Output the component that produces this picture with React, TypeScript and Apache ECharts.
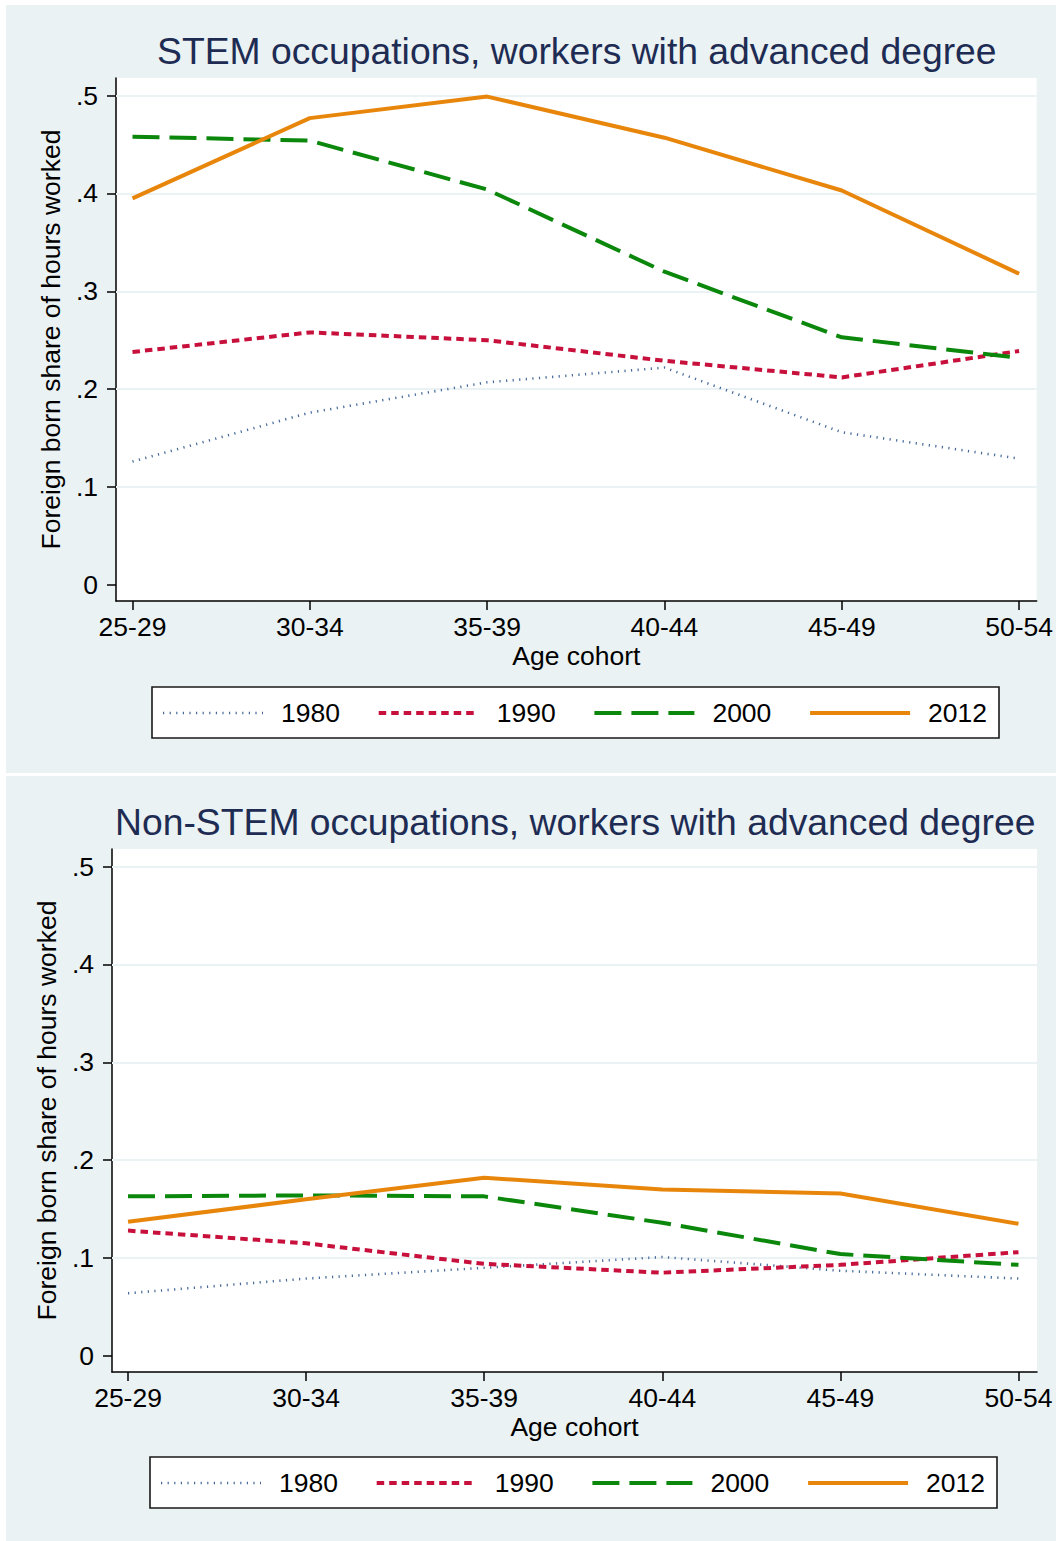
import React, { useEffect, useRef } from "react";
import * as echarts from "echarts";

const categories = ["25-29", "30-34", "35-39", "40-44", "45-49", "50-54"];
const seriesNames = ["1980", "1990", "2000", "2012"];
const yTicks = [0, 0.1, 0.2, 0.3, 0.4, 0.5];
const yTickLabels = ["0", ".1", ".2", ".3", ".4", ".5"];
const panelTitles = [
  "STEM occupations, workers with advanced degree",
  "Non-STEM occupations, workers with advanced degree",
];
const xAxisTitle = "Age cohort";
const yAxisTitle = "Foreign born share of hours worked";

const stem1980 = [0.126, 0.176, 0.207, 0.222, 0.156, 0.129];
const stem1990 = [0.238, 0.258, 0.25, 0.229, 0.212, 0.239];
const stem2000 = [0.458, 0.454, 0.404, 0.32, 0.253, 0.232];
const stem2012 = [0.395, 0.477, 0.499, 0.457, 0.403, 0.318];

const nonStem1980 = [0.064, 0.079, 0.09, 0.101, 0.087, 0.079];
const nonStem1990 = [0.128, 0.115, 0.094, 0.085, 0.093, 0.106];
const nonStem2000 = [0.163, 0.164, 0.163, 0.136, 0.104, 0.093];
const nonStem2012 = [0.137, 0.16, 0.182, 0.17, 0.166, 0.135];

const FONT = '"Liberation Sans", Arial, Helvetica, sans-serif';
const BG = "#EAF2F3";
const AXIS_FONT = 26.5;

const lineStyles: any[] = [
  { color: "#46699a", width: 2.6, type: [1.2, 5.4] },
  { color: "#c8103c", width: 4, type: [7.5, 5] },
  { color: "#0b870b", width: 4, type: [27, 10] },
  { color: "#e8860c", width: 4, type: "solid" },
];

const panels = [
  {
    values: [stem1980, stem1990, stem2000, stem2012],
    gridLeft: 116, gridTop: 78, gridWidth: 921,
    xMin: -0.093, xMax: 5.099,
    titleLeft: 157, titleTop: 32,
    yNameGap: 52,
    legendLeft: 152, legendTop: 687,
  },
  {
    values: [nonStem1980, nonStem1990, nonStem2000, nonStem2012],
    gridLeft: 112, gridTop: 849, gridWidth: 925,
    xMin: -0.09, xMax: 5.104,
    titleLeft: 115, titleTop: 803,
    yNameGap: 48,
    legendLeft: 150, legendTop: 1457,
  },
];

function buildOption() {
  const xIdx = categories.map((_, k) => k);
  const grid: any[] = [];
  const xAxis: any[] = [];
  const yAxis: any[] = [];
  const series: any[] = [];
  const title: any[] = [];
  const graphic: any[] = [
    { type: "rect", z: -10, shape: { x: 6, y: 5, width: 1050, height: 768 }, style: { fill: BG } },
    { type: "rect", z: -10, shape: { x: 6, y: 776, width: 1050, height: 765 }, style: { fill: BG } },
  ];

  panels.forEach((p, i) => {
    title.push({
      text: panelTitles[i],
      left: p.titleLeft,
      top: p.titleTop,
      padding: 0,
      textStyle: { fontSize: 37.3, fontWeight: "normal", color: "#1e2c53", fontFamily: FONT },
    });
    grid.push({
      left: p.gridLeft, top: p.gridTop, width: p.gridWidth, height: 523,
      show: true, backgroundColor: "#ffffff", borderWidth: 0,
    });
    xAxis.push({
      gridIndex: i, type: "value", min: p.xMin, max: p.xMax,
      axisLine: { show: true, onZero: false, lineStyle: { color: "#000", width: 1.5 } },
      axisTick: { show: true, length: 9, customValues: xIdx, lineStyle: { color: "#000", width: 1.5 } },
      axisLabel: {
        customValues: xIdx,
        formatter: (v: number) => categories[Math.round(v)],
        fontSize: AXIS_FONT, color: "#000", fontFamily: FONT, margin: 12,
      },
      splitLine: { show: false },
      name: xAxisTitle, nameLocation: "middle", nameGap: 41,
      nameTextStyle: { fontSize: AXIS_FONT, color: "#000", fontFamily: FONT },
    });
    yAxis.push({
      gridIndex: i, type: "value", min: -0.0165, max: 0.518,
      axisLine: { show: true, onZero: false, lineStyle: { color: "#000", width: 1.5 } },
      axisTick: { show: true, length: 9, customValues: yTicks, lineStyle: { color: "#000", width: 1.5 } },
      axisLabel: {
        customValues: yTicks,
        formatter: (v: number) => {
          const k = yTicks.findIndex((t) => Math.abs(t - v) < 1e-6);
          return k >= 0 ? yTickLabels[k] : "";
        },
        fontSize: AXIS_FONT, color: "#000", fontFamily: FONT, margin: 18,
      },
      splitLine: { show: false },
      name: yAxisTitle, nameLocation: "middle", nameGap: p.yNameGap,
      nameTextStyle: { fontSize: AXIS_FONT, color: "#000", fontFamily: FONT },
    });
    series.push({
      type: "line", xAxisIndex: i, yAxisIndex: i, data: [], z: 1, silent: true,
      markLine: {
        silent: true, z: 1, symbol: ["none", "none"], label: { show: false },
        lineStyle: { color: BG, width: 2, type: "solid" },
        emphasis: { disabled: true },
        data: yTicks.filter((t) => t > 0).map((t) => ({ yAxis: t })),
      },
    });
    p.values.forEach((vals, s) => {
      series.push({
        name: seriesNames[s],
        type: "line", xAxisIndex: i, yAxisIndex: i, z: 3 + s,
        showSymbol: false, symbol: "none",
        lineStyle: { ...lineStyles[s] },
        itemStyle: { color: lineStyles[s].color },
        data: vals.map((v, k) => [k, v]),
      });
    });

    const children: any[] = [
      {
        type: "rect",
        shape: { x: p.legendLeft, y: p.legendTop, width: 847, height: 51 },
        style: { fill: "#ffffff", stroke: "#1a1a1a", lineWidth: 1.6 },
      },
    ];
    const cy = p.legendTop + 26;
    seriesNames.forEach((nm, s) => {
      const x0 = p.legendLeft + 11 + 215.7 * s;
      const ls = lineStyles[s];
      children.push({
        type: "line",
        shape: { x1: x0, y1: cy, x2: x0 + 100, y2: cy },
        style: {
          stroke: ls.color, lineWidth: ls.width,
          lineDash: Array.isArray(ls.type) ? ls.type : null,
        },
      });
      children.push({
        type: "text",
        style: {
          text: nm, x: x0 + 118, y: cy, fill: "#000",
          fontSize: AXIS_FONT, fontFamily: FONT,
          align: "left", verticalAlign: "middle",
          textAlign: "left", textVerticalAlign: "middle",
        },
      });
    });
    graphic.push({ type: "group", z: 20, children });
  });

  return {
    animation: false,
    backgroundColor: "#ffffff",
    title, grid, xAxis, yAxis, series, graphic,
    tooltip: { show: false },
  };
}

export default function App() {
  const ref = useRef<HTMLDivElement>(null);
  useEffect(() => {
    document.body.style.margin = "0";
    if (!ref.current) return;
    const chart = echarts.init(ref.current, undefined, { renderer: "svg" });
    chart.setOption(buildOption() as any);
    return () => chart.dispose();
  }, []);
  return <div ref={ref} style={{ width: 1056, height: 1541 }} />;
}
